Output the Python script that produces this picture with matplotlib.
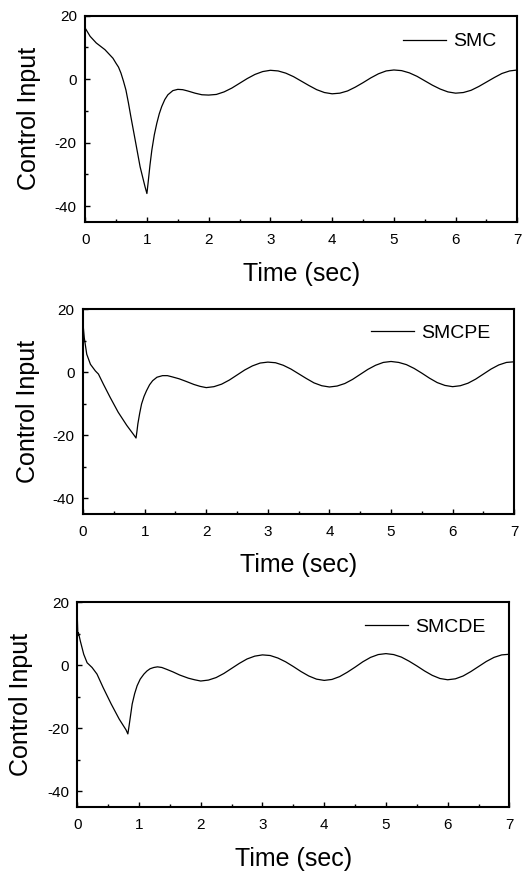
import matplotlib
matplotlib.use("Agg")
import matplotlib.pyplot as plt
from matplotlib.ticker import MultipleLocator

plt.rcParams['font.family'] = ['Liberation Sans', 'DejaVu Sans']
plt.rcParams['axes.unicode_minus'] = False

# SMC
t_smc = [0, 0.08, 0.18, 0.32, 0.45, 0.5, 0.54, 0.58, 0.62, 0.66, 0.70, 0.74, 0.82, 0.89,
         0.97, 1.0, 1.02, 1.05, 1.08, 1.12, 1.16, 1.2, 1.24, 1.29, 1.34, 1.42, 1.5,
         1.58, 1.66, 1.78, 1.89,
         2.0, 2.125, 2.25, 2.375, 2.5, 2.625, 2.75, 2.875, 3.0, 3.125, 3.25, 3.375,
         3.5, 3.625, 3.75, 3.875, 4.0, 4.125, 4.25, 4.375, 4.5, 4.625, 4.75, 4.875,
         5.0, 5.125, 5.25, 5.375, 5.5, 5.625, 5.75, 5.875, 6.0, 6.125, 6.25, 6.375,
         6.5, 6.625, 6.75, 6.875, 7.0]
u_smc = [16.1, 13.5, 11.4, 9.3, 6.6, 5.0, 3.8, 1.9, -0.6, -3.4, -7.4, -11.8, -20.2, -27.6,
         -33.9, -36.0, -32.5, -27.0, -22.3, -17.5, -13.9, -10.9, -8.6, -6.4, -4.9, -3.6, -3.2,
         -3.3, -3.7, -4.4, -4.9,
         -5.0, -4.8, -4.0, -2.8, -1.3, 0.2, 1.5, 2.4, 2.8, 2.6, 1.9, 0.8,
         -0.6, -2.0, -3.3, -4.2, -4.6, -4.4, -3.7, -2.5, -1.1, 0.4, 1.7, 2.6,
         2.9, 2.7, 2.0, 0.9, -0.5, -1.9, -3.1, -4.0, -4.4, -4.2, -3.5, -2.3,
         -0.9, 0.5, 1.8, 2.6, 2.9]

# SMCPE
t_pe = [0, 0.02, 0.06, 0.12, 0.2, 0.25, 0.33, 0.44, 0.57, 0.71, 0.82, 0.86, 0.875,
        0.89, 0.92, 0.95, 0.99, 1.03, 1.08, 1.13, 1.2, 1.29, 1.37, 1.45, 1.56, 1.67,
        1.8, 1.9,
        2.0, 2.125, 2.25, 2.375, 2.5, 2.625, 2.75, 2.875, 3.0, 3.125, 3.25, 3.375,
        3.5, 3.625, 3.75, 3.875, 4.0, 4.125, 4.25, 4.375, 4.5, 4.625, 4.75, 4.875,
        5.0, 5.125, 5.25, 5.375, 5.5, 5.625, 5.75, 5.875, 6.0, 6.125, 6.25, 6.375,
        6.5, 6.625, 6.75, 6.875, 7.0]
u_pe = [15.2, 10.9, 5.7, 2.5, 0.4, -0.6, -3.8, -8.0, -12.7, -16.9, -19.8, -20.9, -18.8,
        -16.4, -13.0, -10.1, -7.7, -5.9, -4.0, -2.7, -1.6, -1.1, -1.1, -1.5, -2.1, -2.9,
        -3.9, -4.5,
        -4.9, -4.6, -3.8, -2.5, -0.9, 0.7, 2.0, 2.9, 3.2, 3.0, 2.2, 1.0,
        -0.5, -2.0, -3.4, -4.3, -4.7, -4.4, -3.6, -2.3, -0.7, 0.9, 2.2, 3.1,
        3.4, 3.1, 2.4, 1.2, -0.3, -1.9, -3.3, -4.2, -4.6, -4.3, -3.5, -2.2,
        -0.6, 1.0, 2.3, 3.1, 3.3]

# SMCDE
t_de = [0, 0.01, 0.02, 0.05, 0.105, 0.16, 0.24, 0.32, 0.42, 0.55, 0.68, 0.79, 0.82,
        0.84, 0.89, 0.93, 0.97, 1.02, 1.08, 1.13, 1.18, 1.24, 1.3, 1.37, 1.45, 1.55,
        1.66, 1.8, 1.9,
        2.0, 2.125, 2.25, 2.375, 2.5, 2.625, 2.75, 2.875, 3.0, 3.125, 3.25, 3.375,
        3.5, 3.625, 3.75, 3.875, 4.0, 4.125, 4.25, 4.375, 4.5, 4.625, 4.75, 4.875,
        5.0, 5.125, 5.25, 5.375, 5.5, 5.625, 5.75, 5.875, 6.0, 6.125, 6.25, 6.375,
        6.5, 6.625, 6.75, 6.875, 7.0]
u_de = [16.0, 9.5, 10.3, 7.7, 3.5, 0.8, -0.7, -2.8, -7.1, -12.3, -17.1, -20.5, -21.8,
        -19.2, -12.3, -9.0, -6.5, -4.4, -2.8, -1.8, -1.1, -0.7, -0.5, -0.7, -1.3, -2.1,
        -3.1, -4.1, -4.6,
        -5.0, -4.7, -3.9, -2.6, -1.0, 0.6, 2.0, 2.9, 3.3, 3.1, 2.3, 1.1,
        -0.4, -2.0, -3.4, -4.4, -4.8, -4.5, -3.6, -2.2, -0.6, 1.1, 2.5, 3.4,
        3.7, 3.4, 2.6, 1.3, -0.2, -1.8, -3.2, -4.2, -4.6, -4.3, -3.4, -2.0,
        -0.4, 1.2, 2.5, 3.3, 3.5]

series = [(t_smc, u_smc, "SMC"), (t_pe, u_pe, "SMCPE"), (t_de, u_de, "SMCDE")]

# axes boxes [left, bottom, width, height] in figure fraction
boxes = [[0.161, 0.745, 0.817, 0.237],
         [0.157, 0.410, 0.815, 0.235],
         [0.146, 0.0735, 0.817, 0.235]]
legend_pos = [(0.951, 0.874), (0.944, 0.883), (0.944, 0.878)]
ylabel_x = [-0.102, -0.100, -0.102]
xlabel_y = [-0.194, -0.19, -0.195]

fig = plt.figure(figsize=(5.29, 8.71), dpi=100)

for i, (t, u, name) in enumerate(series):
    ax = fig.add_axes(boxes[i])
    ax.plot(t, u, color='black', linewidth=0.9, label=name)
    ax.set_xlim(0, 7)
    ax.set_ylim(-45, 20)
    ax.xaxis.set_major_locator(MultipleLocator(1))
    ax.xaxis.set_minor_locator(MultipleLocator(0.5))
    ax.yaxis.set_major_locator(MultipleLocator(20))
    ax.yaxis.set_minor_locator(MultipleLocator(10))
    ax.tick_params(which='both', direction='in', top=False, right=False,
                   labelsize=11, width=1.0)
    ax.tick_params(axis='x', which='major', length=3.5, pad=8)
    ax.tick_params(axis='y', which='major', length=3.5, pad=6)
    ax.tick_params(which='minor', length=2.5)
    for sp in ax.spines.values():
        sp.set_linewidth(1.5)
    ax.set_xlabel("Time (sec)", fontsize=18)
    ax.set_ylabel("Control Input", fontsize=18)
    ax.xaxis.set_label_coords(0.5, xlabel_y[i])
    ax.xaxis.label.set_verticalalignment('top')
    ax.yaxis.set_label_coords(ylabel_x[i], 0.5)
    ax.legend(loc='center right', bbox_to_anchor=legend_pos[i], frameon=False,
              fontsize=14, handlelength=2.2, handletextpad=0.35, borderpad=0,
              borderaxespad=0)

fig.savefig("out.png", dpi=100)
